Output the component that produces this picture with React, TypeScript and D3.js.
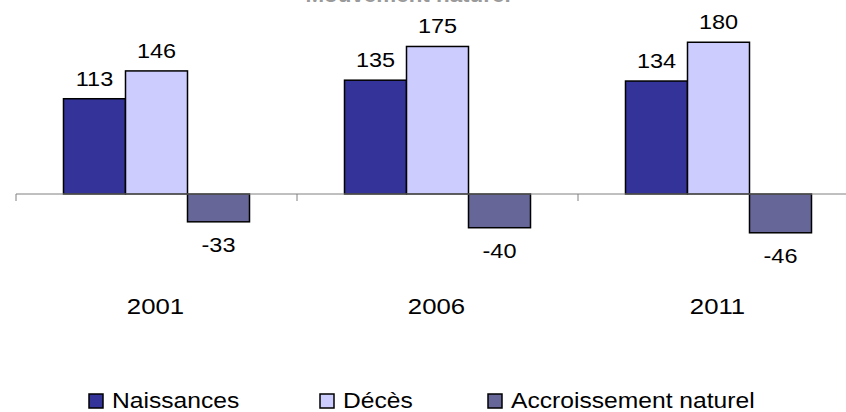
import * as d3 from 'd3'

const years = ['2001', '2006', '2011']
const seriesNames = ['Naissances', 'Décès', 'Accroissement naturel']
const naissances = [113, 135, 134]
const deces = [146, 175, 180]
const accroissement = [-33, -40, -46]
const seriesColors = ['#333399', '#CCCCFF', '#666699']

const W = 846
const H = 412
const ZERO_Y = 194
const PX_PER_UNIT = 0.843
const FONT = '"Liberation Sans", Arial, sans-serif'
const STRETCH = 1.12

const values = [naissances, deces, accroissement]

// stretched text like the source picture
function Label({ x, y, size, children, anchor = 'middle', weight = 400, fill = '#000' }: {
  x: number
  y: number
  size: number
  children: string
  anchor?: 'start' | 'middle' | 'end'
  weight?: number
  fill?: string
}) {
  return (
    <text
      transform={`translate(${x},${y}) scale(${STRETCH},1)`}
      textAnchor={anchor}
      fontSize={size}
      fontWeight={weight}
      fontFamily={FONT}
      fill={fill}
    >
      {children}
    </text>
  )
}

export default function App() {
  const x0 = d3.scaleBand<string>().domain(years).range([16, 859]).paddingInner(0)
  const x1 = d3
    .scaleBand<number>()
    .domain(d3.range(seriesNames.length))
    .range([0, x0.bandwidth()])
    .paddingInner(0)
    .paddingOuter(0.766)
  const y = d3
    .scaleLinear()
    .domain([-50, 200])
    .range([ZERO_Y + 50 * PX_PER_UNIT, ZERO_Y - 200 * PX_PER_UNIT])

  const tickXs = years.map((yr) => x0(yr)!)
  const legendX = [89, 320, 488]

  return (
    <svg
      width={W}
      height={H}
      style={{ position: 'absolute', left: 0, top: 0, background: '#fff' }}
    >
      {/* title, mostly cut off at the top */}
      <Label x={408} y={2} size={20} weight={700} fill="#9a9a9a">
        Mouvement naturel
      </Label>

      {/* bars */}
      {years.map((yr, i) => (
        <g key={yr} transform={`translate(${x0(yr)},0)`}>
          {values.map((vals, s) => {
            const v = vals[i]
            const top = y(Math.max(0, v))
            const h = Math.abs(y(v) - y(0))
            return (
              <rect
                key={s}
                x={x1(s)}
                y={top}
                width={x1.bandwidth()}
                height={h}
                fill={seriesColors[s]}
                stroke="#000"
                strokeWidth={1.5}
              />
            )
          })}
        </g>
      ))}

      {/* zero axis */}
      <line x1={16} x2={W} y1={y(0)} y2={y(0)} stroke="#808080" strokeWidth={1} />
      {tickXs.map((tx) => (
        <line key={tx} x1={tx} x2={tx} y1={y(0)} y2={y(0) + 7} stroke="#808080" strokeWidth={1} />
      ))}

      {/* value labels */}
      {years.map((yr, i) =>
        values.map((vals, s) => {
          const v = vals[i]
          const cx = x0(yr)! + x1(s)! + x1.bandwidth() / 2
          const ly = v >= 0 ? y(v) - 13 : y(v) + 30
          return (
            <Label key={`${yr}-${s}`} x={cx} y={ly} size={21}>
              {String(v)}
            </Label>
          )
        })
      )}

      {/* category labels */}
      {years.map((yr) => (
        <Label key={yr} x={x0(yr)! + x0.bandwidth() / 2 - 1} y={314} size={23}>
          {yr}
        </Label>
      ))}

      {/* legend */}
      {seriesNames.map((name, s) => (
        <g key={name}>
          <rect
            x={legendX[s]}
            y={394}
            width={14}
            height={14}
            fill={seriesColors[s]}
            stroke="#000"
            strokeWidth={1.5}
          />
          <Label x={legendX[s] + 23} y={408} size={22} anchor="start">
            {name}
          </Label>
        </g>
      ))}
    </svg>
  )
}
